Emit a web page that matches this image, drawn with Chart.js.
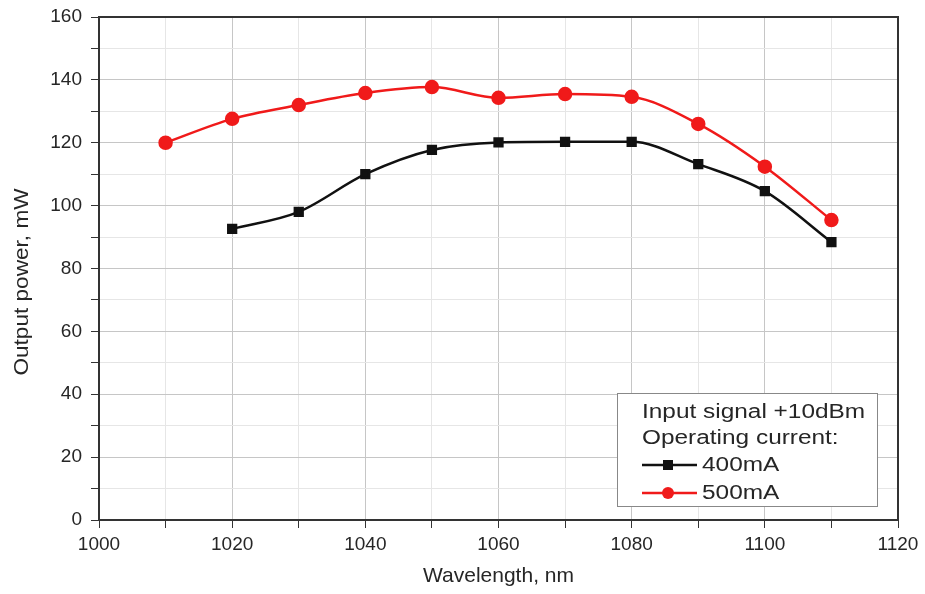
<!DOCTYPE html>
<html>
<head>
<meta charset="utf-8">
<script src="https://cdn.jsdelivr.net/npm/chart.js@4.4.1/dist/chart.umd.min.js"></script>
<style>
  html, body { margin: 0; padding: 0; background: #fff; }
  #wrap { width: 925px; height: 594px; position: relative; }
</style>
</head>
<body>
<div id="wrap"><canvas id="chart"></canvas></div>
<script>
const wavelengths500 = [1010, 1020, 1030, 1040, 1050, 1060, 1070, 1080, 1090, 1100, 1110];
const power500 = [120, 127.6, 132, 135.8, 137.7, 134.3, 135.5, 134.6, 126, 112.4, 95.4];
const wavelengths400 = [1020, 1030, 1040, 1050, 1060, 1070, 1080, 1090, 1100, 1110];
const power400 = [92.6, 98, 110, 117.7, 120.1, 120.3, 120.3, 113.2, 104.6, 88.4];
const legendTitle = ["Input signal +10dBm", "Operating current:"];
const seriesNames = ["400mA", "500mA"];
const yTitle = "Output power, mW";
const xTitle = "Wavelength, nm";

const FONT = "'Liberation Sans', Arial, sans-serif";
const RED = "#f01a1a";
const BLACK = "#111";
const TEXT = "#262626";

function toPoints(xs, ys) {
  return xs.map((x, i) => ({ x: x, y: ys[i] }));
}

function gridColor(ctx, major) {
  const v = ctx.tick ? ctx.tick.value : 0;
  return v % major === 0 ? "#c6c6c6" : "#e6e6e6";
}

// the source picture has slightly wide lettering in the legend and y title,
// so those are drawn by hand with a small horizontal stretch
function stretchedText(ctx, text, x, y, sx) {
  ctx.save();
  ctx.translate(x, y);
  ctx.scale(sx, 1);
  ctx.fillText(text, 0, 0);
  ctx.restore();
}

const framePlugin = {
  id: "frame",
  afterDraw(chart) {
    const { ctx, chartArea: a } = chart;
    ctx.save();
    ctx.strokeStyle = "#333";
    ctx.lineWidth = 2;
    ctx.beginPath();
    ctx.moveTo(a.left, a.top);
    ctx.lineTo(a.right, a.top);
    ctx.lineTo(a.right, a.bottom);
    ctx.stroke();

    // y title
    ctx.save();
    ctx.translate(22, 282);
    ctx.rotate(-Math.PI / 2);
    ctx.fillStyle = TEXT;
    ctx.font = "20px " + FONT;
    ctx.textAlign = "center";
    ctx.textBaseline = "middle";
    ctx.scale(1.13, 1);
    ctx.fillText(yTitle, 0, 0);
    ctx.restore();

    // legend box
    const bx = 617, by = 393, bw = 260, bh = 113;
    ctx.fillStyle = "#fff";
    ctx.fillRect(bx, by, bw, bh);
    ctx.strokeStyle = "#888";
    ctx.lineWidth = 1;
    ctx.strokeRect(bx + 0.5, by + 0.5, bw, bh);

    ctx.fillStyle = TEXT;
    ctx.font = "20px " + FONT;
    ctx.textBaseline = "middle";
    stretchedText(ctx, legendTitle[0], 642, 412, 1.22);
    stretchedText(ctx, legendTitle[1], 642, 438, 1.22);

    const items = [
      { name: seriesNames[0], color: BLACK, style: "rect", y: 465 },
      { name: seriesNames[1], color: RED, style: "circle", y: 493 },
    ];
    items.forEach((it) => {
      ctx.strokeStyle = it.color;
      ctx.lineWidth = 2.5;
      ctx.beginPath();
      ctx.moveTo(642, it.y);
      ctx.lineTo(697, it.y);
      ctx.stroke();
      ctx.fillStyle = it.color;
      if (it.style === "rect") {
        ctx.fillRect(663, it.y - 5, 10, 10);
      } else {
        ctx.beginPath();
        ctx.arc(668, it.y, 6, 0, Math.PI * 2);
        ctx.fill();
      }
      ctx.fillStyle = TEXT;
      stretchedText(ctx, it.name, 702, it.y, 1.22);
    });
    ctx.restore();
  },
};

new Chart(document.getElementById("chart"), {
  type: "scatter",
  data: {
    datasets: [
      {
        label: seriesNames[0],
        data: toPoints(wavelengths400, power400),
        showLine: true,
        borderColor: BLACK,
        backgroundColor: BLACK,
        borderWidth: 2.5,
        pointStyle: "rect",
        pointRadius: 5.5,
        cubicInterpolationMode: "monotone",
      },
      {
        label: seriesNames[1],
        data: toPoints(wavelengths500, power500),
        showLine: true,
        borderColor: RED,
        backgroundColor: RED,
        borderWidth: 2.5,
        pointStyle: "circle",
        pointRadius: 6,
        cubicInterpolationMode: "monotone",
      },
    ],
  },
  options: {
    responsive: true,
    maintainAspectRatio: false,
    animation: false,
    layout: { padding: { top: 17, right: 27, left: 0, bottom: 0 } },
    plugins: { legend: { display: false }, tooltip: { enabled: false } },
    scales: {
      x: {
        type: "linear",
        min: 1000,
        max: 1120,
        afterFit: (s) => {
          s.height = 74;
          s.paddingLeft = 0;
          s.paddingRight = 0;
        },
        ticks: {
          stepSize: 10,
          autoSkip: false,
          maxRotation: 0,
          color: TEXT,
          padding: 5,
          font: { family: FONT, size: 19 },
          callback: (v) => (v % 20 === 0 ? v : ""),
        },
        grid: {
          color: (c) => gridColor(c, 20),
          tickColor: "#333",
          tickLength: 8,
          lineWidth: 1,
        },
        border: { color: "#333", width: 2 },
        title: {
          display: true,
          text: xTitle,
          color: TEXT,
          font: { family: FONT, size: 21 },
          padding: { top: 0, bottom: 5 },
        },
      },
      y: {
        min: 0,
        max: 160,
        afterFit: (s) => {
          s.width = 99;
          s.paddingTop = 0;
          s.paddingBottom = 0;
        },
        ticks: {
          stepSize: 10,
          autoSkip: false,
          color: TEXT,
          padding: 9,
          font: { family: FONT, size: 19 },
          callback: (v) => (v % 20 === 0 ? v : ""),
        },
        grid: {
          color: (c) => gridColor(c, 20),
          tickColor: "#333",
          tickLength: 8,
          lineWidth: 1,
        },
        border: { color: "#333", width: 2 },
        title: { display: false },
      },
    },
  },
  plugins: [framePlugin],
});
</script>
</body>
</html>
